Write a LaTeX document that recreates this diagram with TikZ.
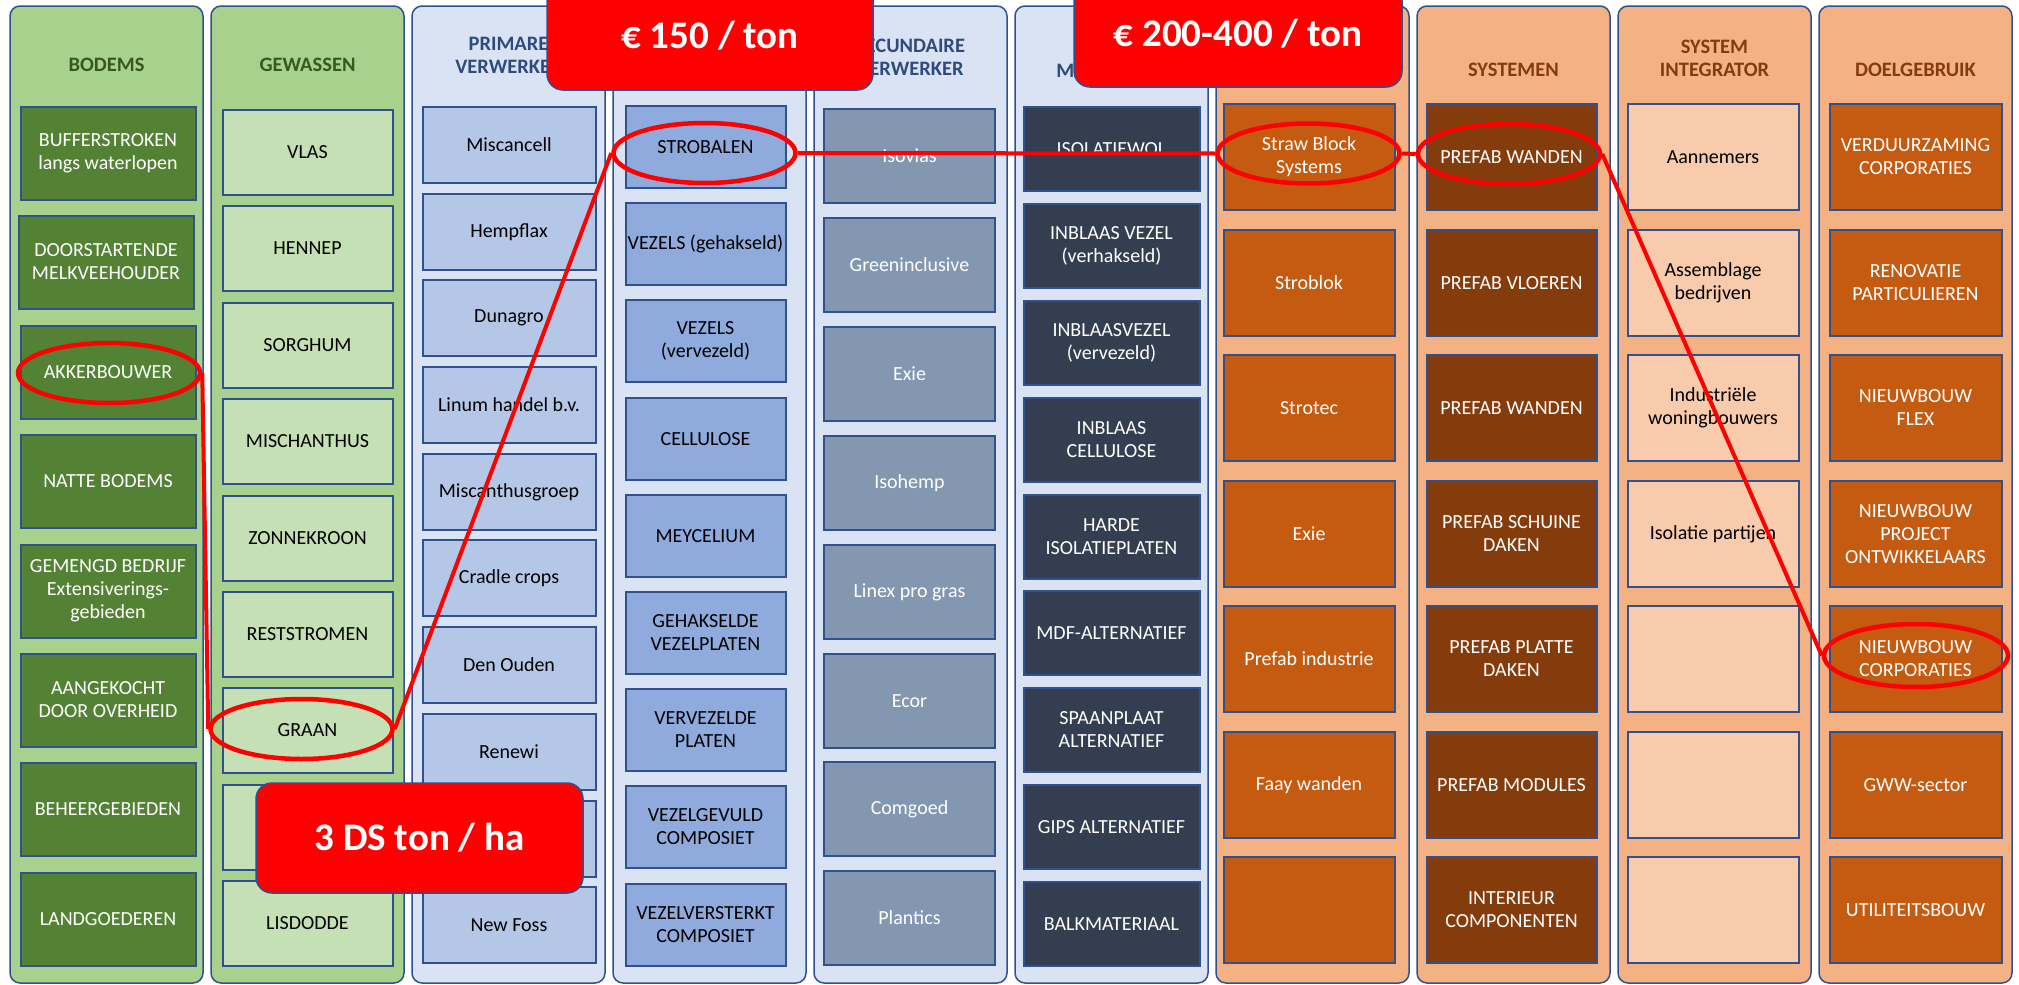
\documentclass[tikz,border=0pt]{standalone}
\usepackage{fontspec}
\setmainfont{Carlito}
\usetikzlibrary{shapes.geometric}

\definecolor{rand}{HTML}{2F528F}
\definecolor{groenkolom}{HTML}{A9D18E}
\definecolor{bluekolom}{HTML}{DAE3F3}
\definecolor{oranjekolom}{HTML}{F4B183}
\definecolor{groenkop}{HTML}{385723}
\definecolor{blauwkop}{HTML}{2F4B7C}
\definecolor{bruinkop}{HTML}{843C0C}
\definecolor{prijsrood}{HTML}{FF0000}
\definecolor{bodemgroen}{HTML}{548235}
\definecolor{gewasgroen}{HTML}{C5E0B4}
\definecolor{primairblauw}{HTML}{B4C7E7}
\definecolor{halffabblauw}{HTML}{8FAADC}
\definecolor{secundairgrijs}{HTML}{8497B0}
\definecolor{materiaalgrijs}{HTML}{333F50}
\definecolor{oranje}{HTML}{C55A11}
\definecolor{bruin}{HTML}{843C0C}
\definecolor{zalm}{HTML}{F8CBAD}

\tikzset{
  kolom/.style={draw=rand, line width=1.5pt, rounded corners=10pt,
    minimum width=193pt, minimum height=977pt, inner sep=0pt},
  kop/.style={align=center, font=\bfseries\fontsize{20.5}{23}\selectfont},
  vak/.style={draw=rand, line width=2pt, inner sep=0pt, align=center,
    font=\fontsize{20}{23}\selectfont},
  bodem/.style={vak, fill=bodemgroen, text=white, minimum width=175pt, minimum height=93pt},
  gewas/.style={vak, fill=gewasgroen, minimum width=170pt, minimum height=85pt},
  primair/.style={vak, fill=primairblauw, minimum width=173pt, minimum height=76pt},
  halffab/.style={vak, fill=halffabblauw, minimum width=160pt, minimum height=82pt},
  secundair/.style={vak, fill=secundairgrijs, text=white, minimum width=171pt, minimum height=94pt},
  materiaal/.style={vak, fill=materiaalgrijs, text=white, minimum width=176pt, minimum height=84pt},
  producent/.style={vak, fill=oranje, text=white, minimum width=171pt, minimum height=106pt},
  systeem/.style={vak, fill=bruin, text=white, minimum width=170pt, minimum height=106pt},
  integrator/.style={vak, fill=zalm, minimum width=171pt, minimum height=106pt},
  doel/.style={vak, fill=oranje, text=white, minimum width=172pt, minimum height=106pt},
  ring/.style={ellipse, draw=prijsrood, line width=4.5pt, inner sep=0pt,
    minimum width=182pt, minimum height=60pt},
  route/.style={draw=prijsrood, line width=4pt},
  prijs/.style={draw=rand, line width=1.5pt, fill=prijsrood, rounded corners=16pt,
    text=white, font=\bfseries\fontsize{39}{44}\selectfont}
}

\begin{document}
\begin{tikzpicture}[x=1pt,y=-1pt]
  \useasboundingbox (0,0) rectangle (2019,985);
  \fill[white] (0,0) rectangle (2019,985);

  % Kolommen
  \node[kolom, fill=groenkolom] (bodems) at (106.5,494.5) {};
  \node[kolom, fill=groenkolom] (gewassen) at (307.5,494.5) {};
  \node[kolom, fill=bluekolom] (primairen) at (508.5,494.5) {};
  \node[kolom, fill=bluekolom] (halffabrikaten) at (709.5,494.5) {};
  \node[kolom, fill=bluekolom] (secundairen) at (910.5,494.5) {};
  \node[kolom, fill=bluekolom] (materialen) at (1111.5,494.5) {};
  \node[kolom, fill=oranjekolom] (producenten) at (1312.5,494.5) {};
  \node[kolom, fill=oranjekolom] (systemen) at (1513.5,494.5) {};
  \node[kolom, fill=oranjekolom] (integratoren) at (1714.5,494.5) {};
  \node[kolom, fill=oranjekolom] (doelen) at (1915.5,494.5) {};

  % Koppen
  \node[kop, text=groenkop] (bodemskop) at (106.5,65) {BODEMS};
  \node[kop, text=groenkop] (gewassenkop) at (307.5,65) {GEWASSEN};
  \node[kop, text=blauwkop] (primairkop) at (508.5,55) {PRIMARE\\VERWERKER};
  \node[kop, text=blauwkop] (secundairkop) at (910.5,57) {SECUNDAIRE\\VERWERKER};
  \node[kop, text=blauwkop] (materiaalkop) at (1111.5,71) {MATERIALEN};
  \node[kop, text=bruinkop] (systemenkop) at (1513.5,70) {SYSTEMEN};
  \node[kop, text=bruinkop] (integratorkop) at (1714.5,58) {SYSTEM\\INTEGRATOR};
  \node[kop, text=bruinkop] (doelkop) at (1915.5,70) {DOELGEBRUIK};

  % Bodems
  \node[bodem] (buffer) at (108,153) {BUFFERSTROKEN\\langs waterlopen};
  \node[bodem] (melkvee) at (106,262) {DOORSTARTENDE\\MELKVEEHOUDER};
  \node[bodem] (akker) at (108,372) {AKKERBOUWER};
  \node[bodem] (natte) at (108,481) {NATTE BODEMS};
  \node[bodem] (gemengd) at (108,591) {GEMENGD BEDRIJF\\Extensiverings-\\gebieden};
  \node[bodem] (overheid) at (108,700) {AANGEKOCHT\\DOOR OVERHEID};
  \node[bodem] (beheer) at (108,809) {BEHEERGEBIEDEN};
  \node[bodem] (landgoed) at (108,919) {LANDGOEDEREN};

  % Gewassen
  \node[gewas] (vlas) at (307.5,152) {VLAS};
  \node[gewas] (hennep) at (307.5,248) {HENNEP};
  \node[gewas] (sorghum) at (307.5,345) {SORGHUM};
  \node[gewas] (mischanthus) at (307.5,441) {MISCHANTHUS};
  \node[gewas] (zonnekroon) at (307.5,538) {ZONNEKROON};
  \node[gewas] (reststromen) at (307.5,634) {RESTSTROMEN};
  \node[gewas] (graan) at (307.5,730) {GRAAN};
  \node[gewas] (gewasacht) at (307.5,827) {};
  \node[gewas] (lisdodde) at (307.5,923) {LISDODDE};

  % Primaire verwerkers
  \node[primair] (miscancell) at (509,145) {Miscancell};
  \node[primair] (hempflax) at (509,232) {Hempflax};
  \node[primair] (dunagro) at (509,318) {Dunagro};
  \node[primair] (linum) at (509,405) {Linum handel b.v.};
  \node[primair] (miscanthusgroep) at (509,492) {Miscanthusgroep};
  \node[primair] (cradle) at (509,578) {Cradle crops};
  \node[primair] (denouden) at (509,665) {Den Ouden};
  \node[primair] (renewi) at (509,752) {Renewi};
  \node[primair] (primairnegen) at (509,839) {};
  \node[primair] (newfoss) at (509,925) {New Foss};

  % Halffabrikaten
  \node[halffab] (strobalen) at (705.5,147) {STROBALEN};
  \node[halffab] (vezelsgeh) at (705.5,244) {VEZELS (gehakseld)};
  \node[halffab] (vezelsverv) at (705.5,341) {VEZELS\\(vervezeld)};
  \node[halffab] (cellulose) at (705.5,439) {CELLULOSE};
  \node[halffab] (meycelium) at (705.5,536) {MEYCELIUM};
  \node[halffab] (vezelplaten) at (705.5,633) {GEHAKSELDE\\VEZELPLATEN};
  \node[halffab] (vervplaten) at (705.5,730) {VERVEZELDE\\PLATEN};
  \node[halffab] (vezelgevuld) at (705.5,827) {VEZELGEVULD\\COMPOSIET};
  \node[halffab] (vezelversterkt) at (705.5,925) {VEZELVERSTERKT\\COMPOSIET};

  % Secundaire verwerkers
  \node[secundair] (isovias) at (909.5,156) {Isovias};
  \node[secundair] (greeninclusive) at (909.5,265) {Greeninclusive};
  \node[secundair] (exie) at (909.5,374) {Exie};
  \node[secundair] (isohemp) at (909.5,483) {Isohemp};
  \node[secundair] (linex) at (909.5,592) {Linex pro gras};
  \node[secundair] (ecor) at (909.5,701) {Ecor};
  \node[secundair] (comgoed) at (909.5,809) {Comgoed};
  \node[secundair] (plantics) at (909.5,918) {Plantics};

  % Materialen
  \node[materiaal] (isolatiewol) at (1111.5,149) {ISOLATIEWOL};
  \node[materiaal] (inblaasverh) at (1111.5,246) {INBLAAS VEZEL\\(verhakseld)};
  \node[materiaal] (inblaasverv) at (1111.5,343) {INBLAASVEZEL\\(vervezeld)};
  \node[materiaal] (inblaascell) at (1111.5,440) {INBLAAS\\CELLULOSE};
  \node[materiaal] (harde) at (1111.5,537) {HARDE\\ISOLATIEPLATEN};
  \node[materiaal] (mdf) at (1111.5,633) {MDF-ALTERNATIEF};
  \node[materiaal] (spaanplaat) at (1111.5,730) {SPAANPLAAT\\ALTERNATIEF};
  \node[materiaal] (gips) at (1111.5,827) {GIPS ALTERNATIEF};
  \node[materiaal] (balk) at (1111.5,924) {BALKMATERIAAL};

  % Producenten
  \node[producent] (strawblock) at (1309,157) {Straw Block\\Systems};
  \node[producent] (stroblok) at (1309,283) {Stroblok};
  \node[producent] (strotec) at (1309,408) {Strotec};
  \node[producent] (exieprod) at (1309,534) {Exie};
  \node[producent] (prefabind) at (1309,659) {Prefab industrie};
  \node[producent] (faay) at (1309,785) {Faay wanden};
  \node[producent] (producentzeven) at (1309,910) {};

  % Systemen
  \node[systeem] (wanden) at (1511.5,157) {PREFAB WANDEN};
  \node[systeem] (vloeren) at (1511.5,283) {PREFAB VLOEREN};
  \node[systeem] (wandentwee) at (1511.5,408) {PREFAB WANDEN};
  \node[systeem] (schuin) at (1511.5,534) {PREFAB SCHUINE\\DAKEN};
  \node[systeem] (plat) at (1511.5,659) {PREFAB PLATTE\\DAKEN};
  \node[systeem] (modules) at (1511.5,785) {PREFAB MODULES};
  \node[systeem] (interieur) at (1511.5,910) {INTERIEUR\\COMPONENTEN};

  % System integratoren
  \node[integrator] (aannemers) at (1713,157) {Aannemers};
  \node[integrator] (assemblage) at (1713,283) {Assemblage\\bedrijven};
  \node[integrator] (industrieel) at (1713,408) {Industriële\\woningbouwers};
  \node[integrator] (isolatie) at (1713,534) {Isolatie partijen};
  \node[integrator] (integratorvijf) at (1713,659) {};
  \node[integrator] (integratorzes) at (1713,785) {};
  \node[integrator] (integratorzeven) at (1713,910) {};

  % Doelgebruik
  \node[doel] (verduurzaming) at (1915.5,157) {VERDUURZAMING\\CORPORATIES};
  \node[doel] (renovatie) at (1915.5,283) {RENOVATIE\\PARTICULIEREN};
  \node[doel] (flex) at (1915.5,408) {NIEUWBOUW\\FLEX};
  \node[doel] (projectontw) at (1915.5,534) {NIEUWBOUW\\PROJECT\\ONTWIKKELAARS};
  \node[doel] (corporaties) at (1915.5,659) {NIEUWBOUW\\CORPORATIES};
  \node[doel] (gww) at (1915.5,785) {GWW-sector};
  \node[doel] (utiliteit) at (1915.5,910) {UTILITEITSBOUW};

  % Ringen
  \node[ring] (akkerring) at (109,373) {};
  \node[ring] (graanring) at (301.5,729) {};
  \node[ring] (strobalenring) at (704.5,153) {};
  \node[ring] (strawring) at (1308.5,153.5) {};
  \node[ring] (wandenring) at (1509,154) {};
  \node[ring, minimum width=184pt, minimum height=63pt] (corporatiesring) at (1916,655.5) {};

  % Route
  \draw[route] (akkerring.east) -- (graanring.west);
  \draw[route] (graanring.east) -- (strobalenring.west);
  \draw[route] (strobalenring.east) -- (strawring.west);
  \draw[route] (strawring.east) -- (wandenring.west);
  \draw[route] (wandenring.east) -- (corporatiesring.west);

  % Prijzen
  \node[prijs, minimum width=326pt, minimum height=108pt] (prijsstro) at (710,36) {€ 150 / ton};
  \node[prijs, minimum width=328pt, minimum height=107pt] (prijsblok) at (1238,33.5) {€ 200-400 / ton};
  \node[prijs, minimum width=327pt, minimum height=110pt] (opbrengst) at (419.5,838) {3 DS ton / ha};
\end{tikzpicture}
\end{document}
